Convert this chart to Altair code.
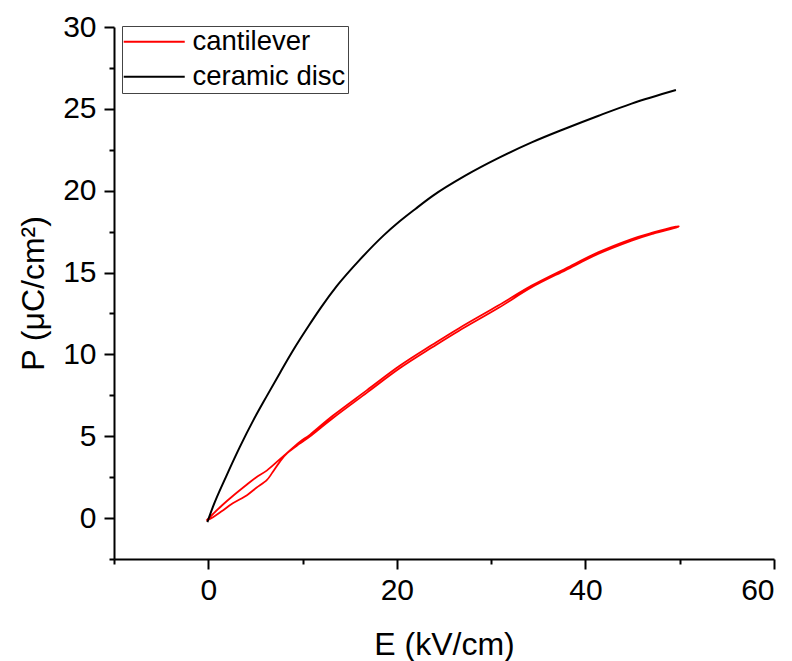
import altair as alt
import pandas as pd

# cantilever: loop (up branch then return branch)
cant_E = [-0.2, 0.5, 1.5, 2.6, 4.1, 5.1, 6.2, 7.6, 9.7, 10.8, 13.2, 16.8, 20.3, 23.8, 26.6,
          30.8, 34.3, 37.9, 41.4, 44.9, 47.2, 49.6,
          49.6, 47.2, 44.9, 41.4, 37.9, 34.3, 30.8, 26.6, 23.8, 20.3, 16.8, 13.2, 10.8, 9.7, 8.4,
          7.6, 6.8, 6.2, 5.1, 4.1, 2.6, 1.5, 0.5, -0.2]
cant_P = [-0.15, 0.25, 0.8, 1.35, 2.05, 2.5, 2.9, 3.6, 4.65, 5.1, 6.25, 7.8, 9.3, 10.6, 11.6,
          13.0, 14.2, 15.25, 16.25, 17.05, 17.45, 17.8,
          17.75, 17.38, 16.95, 16.15, 15.15, 14.1, 12.85, 11.45, 10.45, 9.15, 7.65, 6.1, 5.0, 4.55, 3.98,
          3.45, 2.78, 2.32, 1.85, 1.4, 0.9, 0.45, 0.05, -0.15]

disc_E = [-0.1, 0.5, 1.9, 3.35, 4.8, 6.2, 7.6, 9.0, 10.6, 12.0, 13.6, 16.1, 18.6, 20.3, 22.0,
          23.8, 27.3, 30.8, 34.3, 37.9, 41.4, 44.9, 49.6]
disc_P = [-0.25, 0.7, 2.55, 4.35, 6.0, 7.45, 8.87, 10.25, 11.7, 12.9, 14.15, 15.8, 17.27, 18.13, 18.9,
          19.68, 20.93, 22.0, 22.95, 23.8, 24.58, 25.32, 26.15]

series = ["cantilever", "ceramic disc"]
colors = ["#ff0000", "#000000"]

x_ticks = [-10, 0, 10, 20, 30, 40, 50, 60]
y_ticks = [-2.5, 0, 2.5, 5, 7.5, 10, 12.5, 15, 17.5, 20, 22.5, 25, 27.5, 30]

cant_df = pd.DataFrame({"series": series[0], "E": cant_E, "P": cant_P,
                        "o": list(range(len(cant_E)))})
disc_df = pd.DataFrame({"series": series[1], "E": disc_E, "P": disc_P,
                        "o": list(range(len(disc_E)))})

FONT = "Liberation Sans"

x_enc = alt.X("E:Q", scale=alt.Scale(domain=[-10, 60], nice=False, zero=False),
              axis=alt.Axis(
                  title="E (kV/cm)", values=x_ticks, grid=False,
                  labelExpr="datum.value % 20 == 0 ? datum.label : ''",
                  tickSize={"condition": {"test": "datum.value % 20 == 0", "value": 10}, "value": 5},
                  labelPadding=6, titlePadding=24,
              ))
y_enc = alt.Y("P:Q", scale=alt.Scale(domain=[-2.5, 30], nice=False, zero=False),
              axis=alt.Axis(
                  title="P (μC/cm²)", values=y_ticks, grid=False,
                  labelExpr="datum.value % 5 == 0 ? datum.label : ''",
                  tickSize={"condition": {"test": "datum.value % 5 == 0", "value": 10}, "value": 5},
                  labelPadding=8, titlePadding=12,
              ))
color_enc = alt.Color("series:N", scale=alt.Scale(domain=series, range=colors),
                      legend=alt.Legend(
                          title=None, orient="none", legendX=8, legendY=-1,
                          strokeColor="#444444", padding=2, rowPadding=6,
                          symbolType="M-2.3,0H7.7", symbolSize=149, symbolStrokeWidth=2,
                          labelFont=FONT, labelFontSize=27.5, labelOffset=41,
                          labelColor="black",
                      ))

cant = alt.Chart(cant_df).mark_line(strokeWidth=1.8, interpolate="cardinal").encode(
    x=x_enc, y=y_enc, color=color_enc, order="o:Q")
disc = alt.Chart(disc_df).mark_line(strokeWidth=2, interpolate="monotone").encode(
    x=x_enc, y=y_enc, color=color_enc, order="o:Q")

chart = alt.layer(cant, disc).properties(
    width=660, height=532,
    autosize=alt.AutoSizeParams(type="none"),
    padding={"left": 106, "top": 19, "right": 10, "bottom": 110},
    background="white",
).configure_view(stroke=None).configure_axis(
    domainColor="black", domainWidth=2, tickColor="black", tickWidth=2,
    labelFont=FONT, labelFontSize=30, labelColor="black",
    titleFont=FONT, titleFontSize=32, titleFontWeight="normal", titleColor="black",
)

chart.save("out.html", embed_options={"renderer": "svg", "actions": False})
